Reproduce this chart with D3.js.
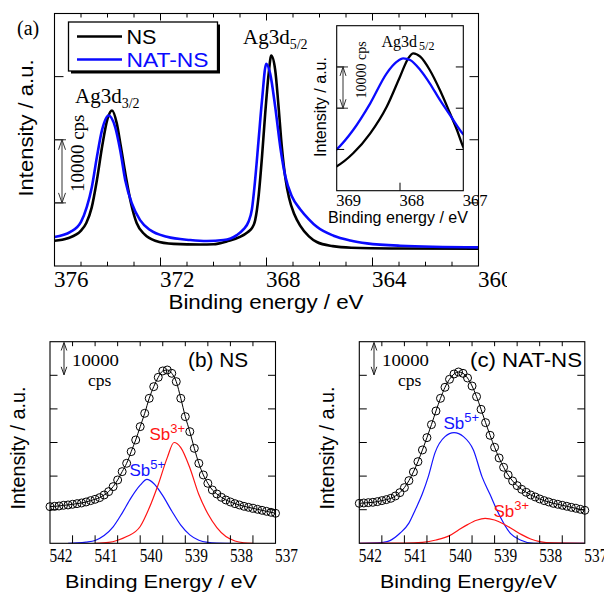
<!DOCTYPE html>
<html lang="en">
<head>
<meta charset="UTF-8" />
<title>Ag3d / Sb3d XPS</title>
<script src="https://cdn.jsdelivr.net/npm/d3@7"></script>
<style>
  body { margin: 0; background: #fff; }
  svg { display: block; }
  .serif { font-family: "Liberation Serif", "Times New Roman", serif; }
  .sans { font-family: "Liberation Sans", Arial, sans-serif; }
</style>
</head>
<body>
<svg width="604" height="592"></svg>
<script>
// ---- panel (a): Ag3d, [binding energy eV, counts] ----
var nsAg = [
  [376.0, 4000], [375.5, 4400], [375.0, 5600], [374.8, 6800], [374.6, 9200],
  [374.4, 13600], [374.2, 19000], [374.0, 23300], [373.83, 24640], [373.65, 22600],
  [373.5, 19000], [373.3, 14000], [373.1, 9700], [372.9, 6800], [372.6, 5000],
  [372.2, 4000], [371.5, 3500], [370.5, 3400], [370.0, 3450], [369.5, 3900],
  [369.0, 4600], [368.7, 5400], [368.55, 6000], [368.43, 7200], [368.3, 11000],
  [368.17, 17300], [368.05, 24100], [367.92, 30400], [367.82, 33330], [367.67, 31000],
  [367.55, 25500], [367.42, 18800], [367.29, 14000], [367.15, 10800], [366.95, 8200],
  [366.73, 6400], [366.4, 4700], [366.1, 3800], [365.5, 3150], [364.8, 2900],
  [363.0, 2780], [360.0, 2730]
];
var natAg = [
  [376.0, 4600], [375.4, 5400], [375.0, 7000], [374.78, 9370], [374.59, 12530],
  [374.4, 17270], [374.21, 21480], [373.96, 23850], [373.71, 22010], [373.52, 18330],
  [373.33, 13590], [373.08, 9900], [372.77, 7270], [372.39, 5690], [371.76, 4630],
  [370.88, 4110], [370.25, 3950], [369.62, 4110], [369.12, 4900], [368.87, 5800],
  [368.68, 7000], [368.55, 9000], [368.43, 13590], [368.3, 19910], [368.17, 26220],
  [368.01, 32020], [367.86, 30440], [367.67, 25170], [367.48, 18850], [367.29, 14200],
  [367.04, 11000], [366.73, 9000], [366.4, 7400], [366.1, 6200], [365.47, 4800],
  [364.84, 4050], [364.21, 3590], [362.96, 3210], [360.0, 2950]
];
// inset, Ag3d5/2 close up
var nsInset = [
  [369.05, 5500], [369.01, 5820], [368.74, 9070], [368.47, 13910], [368.21, 20360],
  [368.0, 27640], [367.87, 32100], [367.79, 33310], [367.68, 32480], [367.53, 29260],
  [367.37, 24410], [367.21, 18760], [367.1, 14720], [366.99, 10280], [366.95, 9300]
];
var natInset = [
  [369.05, 9300], [369.01, 9860], [368.74, 14720], [368.47, 21190], [368.21, 28460],
  [368.05, 31270], [367.95, 32100], [367.84, 31680], [367.68, 29260], [367.53, 26040],
  [367.37, 21990], [367.21, 18350], [366.99, 13500], [366.95, 12900]
];
var agTicks = [376, 372, 368, 364, 360];
var insetTicks = [369, 368, 367];

// ---- panels (b), (c): Sb3d5/2 ----
var sbEnergy = [
  542.0, 541.9, 541.8, 541.7, 541.6, 541.5, 541.4, 541.3, 541.2, 541.1,
  541.0, 540.9, 540.8, 540.7, 540.6, 540.5, 540.4, 540.3, 540.2, 540.1,
  540.0, 539.9, 539.8, 539.7, 539.6, 539.5, 539.4, 539.3, 539.2, 539.1,
  539.0, 538.9, 538.8, 538.7, 538.6, 538.5, 538.4, 538.3, 538.2, 538.1,
  538.0, 537.9, 537.8, 537.7, 537.6, 537.5, 537.4, 537.3, 537.2, 537.1, 537.0
];
var nsSb = [
  10910, 11010, 11110, 11310, 11410, 11610, 11800, 12000, 12300, 12700,
  13090, 13590, 14380, 15380, 16860, 18850, 21330, 23810, 27280, 30750,
  34720, 38690, 43150, 46620, 49400, 51290, 51580, 50590, 48110, 43150,
  37700, 33230, 28270, 23810, 20340, 17860, 15870, 14680, 13690, 12900,
  12300, 11800, 11410, 11010, 10710, 10420, 10120, 9820, 9520, 9230, 8930
];
var natSb = [
  11900, 12000, 12100, 12200, 12400, 12700, 13000, 13390, 14090, 15080,
  16570, 18650, 21230, 24300, 27780, 31450, 35320, 39380, 43150, 46430,
  48810, 50390, 50990, 50590, 49200, 46820, 43650, 39880, 35910, 32140,
  28570, 25400, 22620, 20340, 18550, 17160, 16070, 15180, 14380, 13790,
  13190, 12700, 12300, 11900, 11610, 11310, 11010, 10710, 10420, 10120, 9820
];
var sb5NS = [
  [541.6, 0], [541.4, 100], [541.2, 350], [541.0, 850], [540.8, 2300], [540.6, 4900],
  [540.4, 9000], [540.2, 13600], [540.0, 17300], [539.85, 19000], [539.7, 17800],
  [539.5, 14200], [539.3, 9600], [539.1, 5400], [538.9, 2500], [538.7, 900],
  [538.5, 250], [538.3, 50], [538.0, 0]
];
var sb3NS = [
  [541.0, 0], [540.7, 250], [540.5, 900], [540.3, 2000], [540.0, 5000], [539.8, 10500],
  [539.6, 17500], [539.4, 25500], [539.25, 30000], [539.1, 28500], [538.9, 22500],
  [538.7, 14500], [538.5, 8800], [538.3, 4700], [538.1, 2000], [537.9, 700],
  [537.7, 150], [537.5, 0]
];
var sb5NAT = [
  [542.0, 0], [541.6, 100], [541.47, 250], [541.32, 790], [541.1, 2980], [540.9, 6000],
  [540.76, 9920], [540.6, 14800], [540.47, 19840], [540.32, 27000], [540.1, 31740],
  [539.9, 32930], [539.69, 31740], [539.47, 27780], [539.28, 19840], [539.1, 14500],
  [538.95, 9920], [538.65, 2980], [538.43, 990], [538.13, 0], [537.0, 0]
];
var sb3NAT = [
  [542.0, 0], [541.0, 60], [540.6, 300], [540.3, 990], [540.0, 2280], [539.8, 3970],
  [539.6, 5560], [539.4, 6850], [539.21, 7440], [539.0, 6940], [538.8, 5750],
  [538.6, 4170], [538.4, 2580], [538.2, 1290], [538.0, 500], [537.7, 100], [537.0, 0]
];
var sbTicks = [542, 541, 540, 539, 538, 537];

var svg = d3.select("svg");
var defs = svg.append("defs");

function clip(id, x, y, w, h) {
  defs.append("clipPath").attr("id", id)
    .append("rect").attr("x", x).attr("y", y).attr("width", w).attr("height", h);
  return "url(#" + id + ")";
}

// inward ticks on all four sides, text drawn separately
function ticks(g, x, y, xVals, xLen, xTopLen, yVals, yLen) {
  var x0 = x.range()[0], x1 = x.range()[1], y0 = y.range()[0], y1 = y.range()[1];
  xVals.forEach(function (v, i) {
    g.append("line").attr("x1", x(v)).attr("x2", x(v)).attr("y1", y0).attr("y2", y0 - xLen[i]);
    g.append("line").attr("x1", x(v)).attr("x2", x(v)).attr("y1", y1).attr("y2", y1 + xTopLen[i]);
  });
  yVals.forEach(function (v) {
    g.append("line").attr("x1", x0).attr("x2", x0 + yLen).attr("y1", y(v)).attr("y2", y(v));
    g.append("line").attr("x1", x1).attr("x2", x1 - yLen).attr("y1", y(v)).attr("y2", y(v));
  });
  g.selectAll("line").attr("stroke", "#000").attr("stroke-width", 1);
  g.append("rect")
    .attr("x", x0).attr("y", y1).attr("width", x1 - x0).attr("height", y0 - y1)
    .attr("fill", "none").attr("stroke", "#000").attr("stroke-width", 1.1);
}

function scaleBar(g, xp, yTop, yBot, w, h, col) {
  g.append("path")
    .attr("d", "M" + xp + "," + yTop + "V" + yBot +
      "M" + (xp - w) + "," + (yTop + h) + "L" + xp + "," + yTop + "L" + (xp + w) + "," + (yTop + h) +
      "M" + (xp - w) + "," + (yBot - h) + "L" + xp + "," + yBot + "L" + (xp + w) + "," + (yBot - h))
    .attr("fill", "none").attr("stroke", col).attr("stroke-width", 1);
}

function label(g, cls, x, y, size, txt) {
  return g.append("text").attr("class", cls).attr("x", x).attr("y", y)
    .attr("font-size", size).text(txt);
}

// ================= panel (a) =================
var xA = d3.scaleLinear().domain([376, 360]).range([54.5, 478.5]);
var yA = d3.scaleLinear().domain([0, 40000]).range([266, 13.5]);
var gA = svg.append("g");

var lineA = d3.line().x(function (d) { return xA(d[0]); })
  .y(function (d) { return yA(d[1]); }).curve(d3.curveMonotoneX);
var curvesA = gA.append("g").attr("clip-path", clip("clipA", 54.5, 13.5, 424, 252.5));
curvesA.append("path").datum(nsAg).attr("d", lineA)
  .attr("fill", "none").attr("stroke", "#000").attr("stroke-width", 2.6);
curvesA.append("path").datum(natAg).attr("d", lineA)
  .attr("fill", "none").attr("stroke", "#0a0aff").attr("stroke-width", 2.6);

var minorA = d3.range(360, 377, 1);
ticks(gA.append("g"), xA, yA, minorA,
  minorA.map(function (v) { return v % 4 === 0 ? 8.5 : 4.3; }),
  minorA.map(function (v) { return v % 4 === 0 ? 7 : 4; }),
  [10000, 20000, 30000], 9);

var tickLabA = gA.append("g").attr("clip-path", clip("clipLab", 0, 0, 507, 592));
agTicks.forEach(function (v) {
  label(tickLabA, "serif", xA(v) - 0.5, 287, 23, v);
});
label(gA, "sans", 266, 309, 20, "Binding energy / eV")
  .attr("text-anchor", "middle").attr("textLength", 195).attr("lengthAdjust", "spacingAndGlyphs");
label(gA, "sans", 0, 0, 20, "Intensity / a.u.")
  .attr("transform", "translate(33,128) rotate(-90)")
  .attr("text-anchor", "middle").attr("textLength", 137).attr("lengthAdjust", "spacingAndGlyphs");
label(gA, "serif", 17, 35, 20, "(a)");

// peak names
var t32 = label(gA, "serif", 75, 103, 21, "Ag3d");
t32.append("tspan").attr("font-size", 14).attr("dy", 5).text("3/2");
var t52 = label(gA, "serif", 243, 43.5, 21, "Ag3d");
t52.append("tspan").attr("font-size", 14).attr("dy", 5).text("5/2");

// 10000 cps bar
var barA = gA.append("g");
barA.append("path")
  .attr("d", "M54.5," + yA(20000) + "H66M54.5," + yA(10000) + "H66")
  .attr("stroke", "#333").attr("stroke-width", 1);
scaleBar(barA, 62, yA(20000), yA(10000), 3.5, 10, "#333");
label(gA, "serif", 0, 0, 19, "10000 cps")
  .attr("transform", "translate(84," + ((yA(20000) + yA(10000)) / 2 - 18) + ") rotate(-90)")
  .attr("text-anchor", "middle");

// legend
var leg = gA.append("g");
leg.append("rect").attr("x", 71).attr("y", 24.5).attr("width", 149).attr("height", 49).attr("fill", "#000");
leg.append("rect").attr("x", 68.5).attr("y", 22).attr("width", 149).attr("height", 49)
  .attr("fill", "#fff").attr("stroke", "#000").attr("stroke-width", 1.3);
leg.append("line").attr("x1", 77).attr("x2", 122).attr("y1", 36.5).attr("y2", 36.5)
  .attr("stroke", "#000").attr("stroke-width", 2.6);
leg.append("line").attr("x1", 77).attr("x2", 122).attr("y1", 59.5).attr("y2", 59.5)
  .attr("stroke", "#0a0aff").attr("stroke-width", 2.6);
label(leg, "sans", 126.5, 43.5, 20, "NS").attr("textLength", 30).attr("lengthAdjust", "spacingAndGlyphs");
label(leg, "sans", 126.5, 66.5, 20, "NAT-NS").attr("fill", "#0a0aff")
  .attr("textLength", 82).attr("lengthAdjust", "spacingAndGlyphs");

// ---- inset ----
var xI = d3.scaleLinear().domain([369, 367]).range([336.7, 463.3]);
var yI = d3.scaleLinear().domain([0, 40000]).range([190.7, 25.7]);
var gI = svg.append("g");
gI.append("rect").attr("x", 336.7).attr("y", 25.7).attr("width", 126.6).attr("height", 165).attr("fill", "#fff");
var lineI = d3.line().x(function (d) { return xI(d[0]); })
  .y(function (d) { return yI(d[1]); }).curve(d3.curveMonotoneX);
var curvesI = gI.append("g").attr("clip-path", clip("clipI", 336.7, 25.7, 126.6, 165));
curvesI.append("path").datum(nsInset).attr("d", lineI)
  .attr("fill", "none").attr("stroke", "#000").attr("stroke-width", 2.3);
curvesI.append("path").datum(natInset).attr("d", lineI)
  .attr("fill", "none").attr("stroke", "#0a0aff").attr("stroke-width", 2.3);
ticks(gI.append("g"), xI, yI, [368], [8], [4.3], [10000, 20000, 30000], 7.5);
insetTicks.forEach(function (v) {
  label(gI, "serif", xI(v) - 0.5, 206, 16.5, v);
});
label(gI, "sans", 398, 223, 16, "Binding energy / eV")
  .attr("text-anchor", "middle").attr("textLength", 140).attr("lengthAdjust", "spacingAndGlyphs");
label(gI, "sans", 0, 0, 16, "Intensity / a.u.")
  .attr("transform", "translate(326,107) rotate(-90)")
  .attr("text-anchor", "middle").attr("textLength", 100).attr("lengthAdjust", "spacingAndGlyphs");
var tI = label(gI, "serif", 381.5, 46.5, 16, "Ag3d");
tI.append("tspan").attr("font-size", 12).attr("dx", 2).attr("dy", 3).text("5/2");
var barI = gI.append("g");
barI.append("path")
  .attr("d", "M336.7," + yI(30000) + "H348M336.7," + yI(20000) + "H348")
  .attr("stroke", "#333").attr("stroke-width", 1);
scaleBar(barI, 343, yI(30000), yI(20000), 3, 9, "#333");
label(gI, "serif", 0, 0, 14, "10000 cps")
  .attr("transform", "translate(366,70) rotate(-90)").attr("text-anchor", "middle");

// ================= panels (b), (c) =================
function sbPanel(left, data, c5, c3, opts) {
  var x = d3.scaleLinear().domain([542, 537]).range([left, left + 225.5]);
  var y = d3.scaleLinear().domain([0, 60000]).range([543.3, 341.7]);
  var g = svg.append("g");
  var line = d3.line().x(function (d) { return x(d[0]); })
    .y(function (d) { return y(d[1]); }).curve(d3.curveMonotoneX);
  var pts = sbEnergy.map(function (e, i) { return [e, data[i]]; });
  var inner = g.append("g").attr("clip-path", clip(opts.id, left, 341.7, 225.5, 201.6));
  inner.append("path").datum(c5).attr("d", line)
    .attr("fill", "none").attr("stroke", "#1414ff").attr("stroke-width", 1.2);
  inner.append("path").datum(c3).attr("d", line)
    .attr("fill", "none").attr("stroke", "#ff1414").attr("stroke-width", 1.2);
  inner.append("path").datum(pts).attr("d", line)
    .attr("fill", "none").attr("stroke", "#000").attr("stroke-width", 1);
  var vals = d3.range(537.5, 542, 0.5);
  ticks(g.append("g"), x, y, vals, vals.map(function () { return 8; }),
    vals.map(function () { return 4.5; }), [10000, 20000, 30000, 40000, 50000], 7.5);
  g.append("g").selectAll("circle").data(pts).join("circle")
    .attr("cx", function (d) { return x(d[0]); })
    .attr("cy", function (d) { return y(d[1]); })
    .attr("r", 4).attr("fill", "none")
    .attr("stroke", "#000").attr("stroke-width", 1);
  sbTicks.forEach(function (v) {
    label(g, "serif", x(v) - 0.5, 562, 19, v)
      .attr("textLength", 23).attr("lengthAdjust", "spacingAndGlyphs");
  });
  label(g, "sans", opts.xlabX, 588, 19, opts.xlab)
    .attr("text-anchor", "middle").attr("textLength", opts.xlabW).attr("lengthAdjust", "spacingAndGlyphs");
  label(g, "sans", 0, 0, 20, "Intensity / a.u.")
    .attr("transform", "translate(" + (left - 25) + ",448) rotate(-90)")
    .attr("text-anchor", "middle").attr("textLength", 123).attr("lengthAdjust", "spacingAndGlyphs");
  label(g, "sans", opts.titleX, 366.5, 20, opts.title)
    .attr("textLength", opts.titleW).attr("lengthAdjust", "spacingAndGlyphs");
  scaleBar(g, left + opts.barDx, 342.5, y(50000) - 0.5, 2.8, 8, "#222");
  label(g, "serif", left + opts.barDx + 8, 365.5, 17.5, "10000")
    .attr("textLength", 47).attr("lengthAdjust", "spacingAndGlyphs");
  label(g, "serif", left + opts.barDx + 24, 386, 17.5, "cps");
  var s5 = label(g, "sans", opts.s5[0], opts.s5[1], 17, "Sb").attr("fill", "#1414ff");
  s5.append("tspan").attr("font-size", 13).attr("dy", -7).text("5+");
  var s3 = label(g, "sans", opts.s3[0], opts.s3[1], 17, "Sb").attr("fill", "#ff1414");
  s3.append("tspan").attr("font-size", 13).attr("dy", -7).text("3+");
}

sbPanel(50, nsSb, sb5NS, sb3NS, {
  id: "clipB", title: "(b) NS", titleX: 188, titleW: 60,
  xlab: "Binding Energy / eV", xlabX: 161, xlabW: 192, barDx: 14,
  s5: [129.5, 476], s3: [149.5, 440]
});
sbPanel(359.3, natSb, sb5NAT, sb3NAT, {
  id: "clipC", title: "(c) NAT-NS", titleX: 470, titleW: 112,
  xlab: "Binding Energy/eV", xlabX: 468.5, xlabW: 177, barDx: 14.7,
  s5: [443.5, 428.5], s3: [493.5, 516.7]
});
</script>
</body>
</html>
